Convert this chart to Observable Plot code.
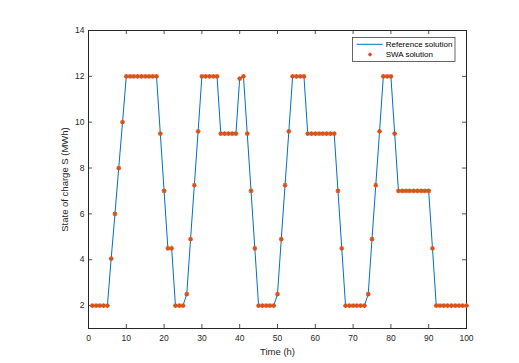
<!DOCTYPE html>
<html><head><meta charset="utf-8">
<script src="https://cdn.jsdelivr.net/npm/d3@7"></script>
<script src="https://cdn.jsdelivr.net/npm/@observablehq/plot@0.6"></script>
<style>body{margin:0;background:#fff;}</style>
</head><body><div id="chart"></div>
<script>
// State of charge (MWh) for hours 1..100
const socValues = [
  2, 2, 2, 2, 2, 4.05, 6, 8, 10, 12,
  12, 12, 12, 12, 12, 12, 12, 12, 9.5, 7,
  4.5, 4.5, 2, 2, 2, 2.5, 4.9, 7.25, 9.6, 12,
  12, 12, 12, 12, 9.5, 9.5, 9.5, 9.5, 9.5, 11.9,
  12, 9.5, 7, 4.5, 2, 2, 2, 2, 2, 2.5,
  4.9, 7.25, 9.6, 12, 12, 12, 12, 9.5, 9.5, 9.5,
  9.5, 9.5, 9.5, 9.5, 9.5, 7, 4.5, 2, 2, 2,
  2, 2, 2, 2.5, 4.9, 7.25, 9.6, 12, 12, 12,
  9.5, 7, 7, 7, 7, 7, 7, 7, 7, 7,
  4.5, 2, 2, 2, 2, 2, 2, 2, 2, 2
];
const xTicks = [0, 10, 20, 30, 40, 50, 60, 70, 80, 90, 100];
const yTicks = [2, 4, 6, 8, 10, 12, 14];
const seriesNames = ["Reference solution", "SWA solution"];
const xLabel = "Time (h)";
const yLabel = "State of charge S (MWh)";

const data = socValues.map((s, i) => ({hour: i + 1, soc: s}));

const ink = "#262626";
const lineColor = "#0072BD";
const dotColor = "#D95319";

const W = 519, H = 363;
const mL = 88, mR = 53, mT = 30, mB = 35;
const frameW = W - mL - mR, frameH = H - mT - mB;
const tick = 4;

const star = {
  draw(ctx, size) {
    const r = Math.sqrt(size / Math.PI);
    const d = r * Math.SQRT1_2;
    ctx.moveTo(-r, 0); ctx.lineTo(r, 0);
    ctx.moveTo(0, -r); ctx.lineTo(0, r);
    ctx.moveTo(-d, -d); ctx.lineTo(d, d);
    ctx.moveTo(-d, d); ctx.lineTo(d, -d);
  }
};

const chart = Plot.plot({
  width: W, height: H,
  marginLeft: mL, marginRight: mR, marginTop: mT, marginBottom: mB,
  style: {fontFamily: "'Liberation Sans', Arial, sans-serif", fontSize: "8.5px", color: ink, background: "#fff"},
  x: {domain: [0, 100]},
  y: {domain: [1, 14]},
  marks: [
    Plot.axisX(xTicks, {anchor: "bottom", tickSize: 0, tickPadding: 6, label: xLabel, labelAnchor: "center", labelOffset: 26, labelArrow: "none"}),
    Plot.axisY(yTicks, {anchor: "left", tickSize: 0, tickPadding: 4, label: yLabel, labelAnchor: "center", labelOffset: 27, labelArrow: "none"}),
    // inward tick marks on all four sides
    Plot.ruleX(xTicks, {x: d => d, insetTop: frameH - tick, stroke: ink, strokeWidth: 0.8}),
    Plot.ruleX(xTicks, {x: d => d, insetBottom: frameH - tick, stroke: ink, strokeWidth: 0.8}),
    Plot.ruleY(yTicks, {y: d => d, insetRight: frameW - tick, stroke: ink, strokeWidth: 0.8}),
    Plot.ruleY(yTicks, {y: d => d, insetLeft: frameW - tick, stroke: ink, strokeWidth: 0.8}),
    Plot.frame({stroke: ink, strokeWidth: 1}),
    Plot.line(data, {x: "hour", y: "soc", stroke: lineColor, strokeWidth: 1}),
    Plot.dot(data, {x: "hour", y: "soc", symbol: star, r: 2.4, stroke: dotColor, strokeWidth: 1.2})
  ]
});

document.getElementById("chart").appendChild(chart);

const svg = d3.select(chart);
svg.selectAll("g[aria-label='x-axis label'] text, g[aria-label='y-axis label'] text").style("font-size", "9.5px");

// legend inside the plot area (top-right)
const lg = svg.append("g").attr("font-size", "8px").attr("fill", "#000").attr("text-anchor", "start");
lg.append("rect").attr("x", 352.5).attr("y", 37.5).attr("width", 102.5).attr("height", 24)
  .attr("fill", "#fff").attr("stroke", ink).attr("stroke-width", 0.7);
lg.append("line").attr("x1", 356.7).attr("x2", 382.7).attr("y1", 44.3).attr("y2", 44.3)
  .attr("stroke", lineColor).attr("stroke-width", 1);
lg.append("path").attr("d", d3.symbol(star, Math.PI * 1.8 * 1.8)()).attr("transform", "translate(370,54.5)")
  .attr("stroke", dotColor).attr("stroke-width", 1.2).attr("fill", "none");
lg.append("text").attr("x", 385.7).attr("y", 44.3).attr("dy", "0.35em").text(seriesNames[0]);
lg.append("text").attr("x", 385.7).attr("y", 54.5).attr("dy", "0.35em").text(seriesNames[1]);
</script>
</body></html>
